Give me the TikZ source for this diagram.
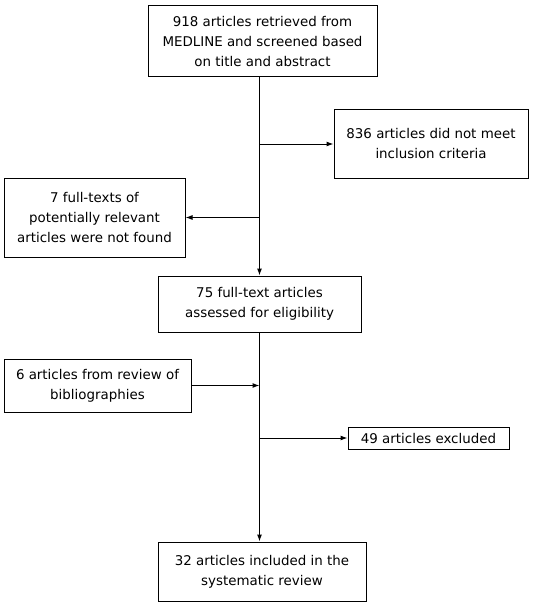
\documentclass[tikz,border=0pt]{standalone}
\usepackage{fontspec}
\setmainfont{DejaVu Sans}
\usepackage{tikz}
\usetikzlibrary{arrows.meta}

\tikzset{
  flowbox/.style={draw, line width=1pt, align=center, inner sep=0pt,
    font=\fontsize{13.4}{20}\selectfont},
  flowarrow/.style={-{Latex[length=7pt,width=5pt]}, line width=1pt}
}

\begin{document}
\begin{tikzpicture}[x=1pt,y=-1pt]
             \useasboundingbox (0,0) rectangle (537,607);
             \node[flowbox, minimum width=229pt, minimum height=71pt] (retrieved) at (262.5,41.5)
               {918 articles retrieved from\\MEDLINE and screened based\\on title and abstract};
             \node[flowbox, minimum width=194pt, minimum height=68pt] (notmeet) at (431,144)
               {836 articles did not meet\\inclusion criteria};
             \node[flowbox, minimum width=181pt, minimum height=79pt] (notfound) at (94.5,217.5)
               {7 full-texts of\\potentially relevant\\articles were not found};
             \node[flowbox, minimum width=203pt, minimum height=56pt] (assessed) at (259.5,304)
               {75 full-text articles\\assessed for eligibility};
             \node[flowbox, minimum width=187pt, minimum height=53pt] (biblio) at (97.5,385.5)
               {6 articles from review of\\bibliographies};
             \node[flowbox, minimum width=161pt, minimum height=22pt] (excluded) at (428.5,438)
               {49 articles excluded};
             \node[flowbox, minimum width=208pt, minimum height=59pt] (included) at (262,571.5)
               {32 articles included in the\\systematic review};
             \draw[flowarrow] (retrieved.south -| assessed.north) -- (assessed.north);
             \draw[flowarrow] (notmeet.west -| assessed.north) -- (notmeet.west);
             \draw[flowarrow] (notfound.east -| assessed.north) -- (notfound.east);
             \draw[flowarrow] (assessed.south) -- (assessed.south |- included.north);
             \draw[flowarrow] (biblio.east) -- (biblio.east -| assessed.south);
             \draw[flowarrow] (excluded.west -| assessed.south) -- (excluded.west);
            \end{tikzpicture}
\end{document}
